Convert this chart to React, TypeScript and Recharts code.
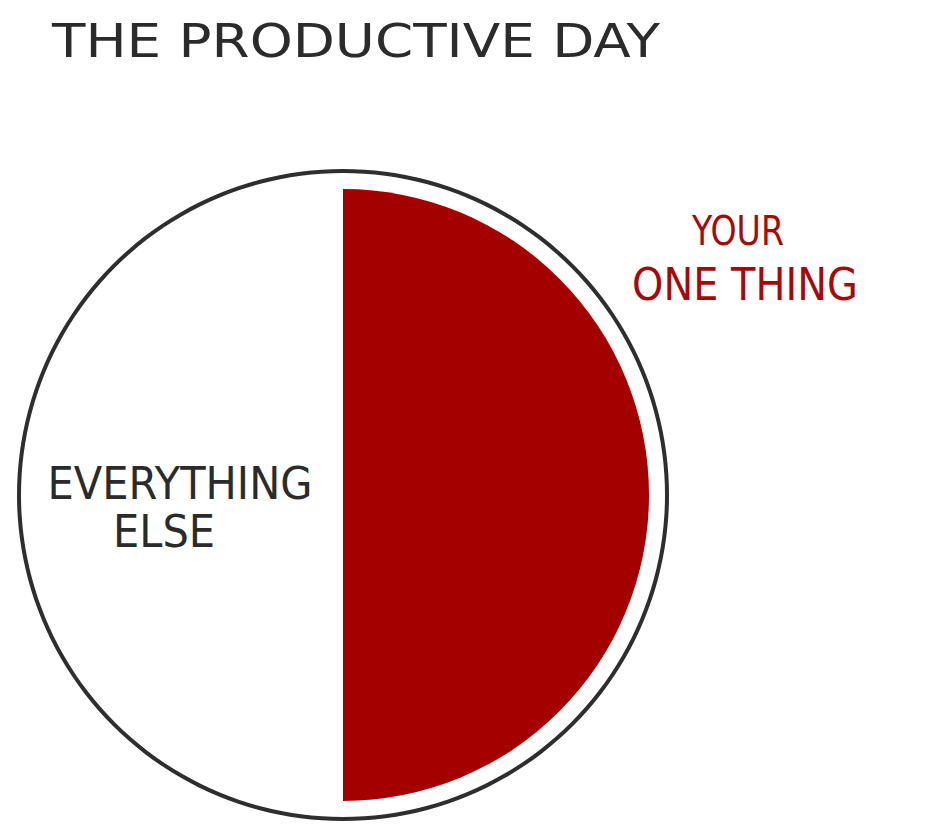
import React from "react";
import { PieChart, Pie, Cell } from "recharts";

const title = "THE PRODUCTIVE DAY";
const categories = ["EVERYTHING ELSE", "YOUR ONE THING"];
const shares = [50, 50];
const labelLines: string[][] = [["EVERYTHING", "ELSE"], ["YOUR", "ONE THING"]];

const data = categories.map((name, i) => ({ name, value: shares[i], lines: labelLines[i] }));
const outline = [{ name: "day", value: 100 }];

const FONT = "'DejaVu Sans', 'Liberation Sans', sans-serif";

// label placement (offset from the pie centre) per slice, styling only
const labelLayout = [
  { color: "#2b2b2b", rows: [{ dx: -163, dy: 4, size: 44, len: 265 }, { dx: -179, dy: 52, size: 44, len: 102 }] },
  { color: "#a50a0a", rows: [{ dx: 395, dy: -250, size: 40, len: 92 }, { dx: 402, dy: -195, size: 44, len: 226 }] },
];

const renderLabel = (props: any) => {
  const { cx, cy, index, payload } = props;
  const lay = labelLayout[index];
  const lines: string[] = (payload && payload.lines) || data[index].lines;
  return (
    <g key={`lbl-${index}`}>
      {lines.map((t, j) => (
        <text
          key={j}
          x={cx + lay.rows[j].dx}
          y={cy + lay.rows[j].dy}
          textAnchor="middle"
          fill={lay.color}
          fontFamily={FONT}
          fontSize={lay.rows[j].size}
          textLength={lay.rows[j].len}
          lengthAdjust="spacingAndGlyphs"
        >
          {t}
        </text>
      ))}
    </g>
  );
};

export default function App() {
  return (
    <div style={{ position: "absolute", left: 0, top: 0, width: 930, height: 838, background: "#fff" }}>
      <svg width={930} height={80} style={{ position: "absolute", left: 0, top: 0 }}>
        <text
          x={52}
          y={57}
          fill="#2b2b2b"
          fontFamily={FONT}
          fontSize={46}
          textLength={608}
          lengthAdjust="spacingAndGlyphs"
        >
          {title}
        </text>
      </svg>
      <div style={{ position: "absolute", left: 0, top: 0 }}>
        <PieChart width={930} height={838} margin={{ top: 0, right: 0, bottom: 0, left: 0 }}>
          <Pie
            data={outline}
            dataKey="value"
            cx={343}
            cy={495}
            outerRadius={326}
            innerRadius={322}
            fill="#2e2e2e"
            stroke="none"
            isAnimationActive={false}
            label={false}
            labelLine={false}
          />
          <Pie
            data={data}
            dataKey="value"
            nameKey="name"
            cx={343}
            cy={495}
            outerRadius={306}
            innerRadius={0}
            startAngle={90}
            endAngle={450}
            stroke="none"
            isAnimationActive={false}
            label={renderLabel}
            labelLine={false}
          >
            <Cell fill="transparent" />
            <Cell fill="#a50000" />
          </Pie>
        </PieChart>
      </div>
    </div>
  );
}
